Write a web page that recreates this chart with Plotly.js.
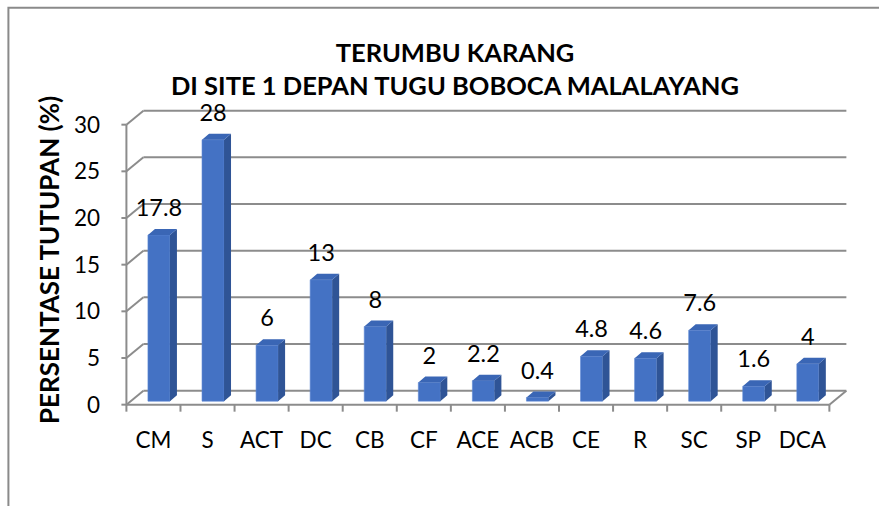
<!DOCTYPE html>
<html>
<head>
<meta charset="utf-8">
<script src="https://cdn.plot.ly/plotly-3.0.1.min.js"></script>
<style>
html,body{margin:0;padding:0;background:#fff;}
#chart{width:879px;height:506px;}
</style>
</head>
<body>
<div id="chart"></div>
<script>
// ---- data ----
const categories = ['CM','S','ACT','DC','CB','CF','ACE','ACB','CE','R','SC','SP','DCA'];
const values = [17.8, 28, 6, 13, 8, 2, 2.2, 0.4, 4.8, 4.6, 7.6, 1.6, 4];
const yTickVals = [0, 5, 10, 15, 20, 25, 30];
const titleLines = ['TERUMBU KARANG', 'DI SITE 1 DEPAN TUGU BOBOCA MALALAYANG'];
const yTitle = 'PERSENTASE TUTUPAN (%)';

// ---- geometry (pixel mapping) ----
const W = 879, H = 506;
const PXX = 703 / 13;     // px per category
const PXY = 280 / 30;     // px per y unit
const X0PX = 126, Y0PX = 405; // front-left-bottom corner in px
const xr = [-0.6, 12.9];
const yr = [-1, 32];
const plotL = X0PX - (-0.5 - xr[0]) * PXX;
const plotW = (xr[1] - xr[0]) * PXX;
const plotB = Y0PX + (0 - yr[0]) * PXY;
const plotH = (yr[1] - yr[0]) * PXY;
const n = categories.length;
const xMin = -0.5, xMax = n - 0.5;
const yMaxFront = yTickVals[yTickVals.length - 1];
const DX = 17 / PXX, DY = 14 / PXY;          // wall depth
const BFX = 5.5 / PXX, BFY = 3.5 / PXY;      // bar front offset
const BDX = 7 / PXX, BDY = 6 / PXY;          // bar depth
const BW = 22 / PXX;                          // bar width

const gridColor = '#8c8c8c';
const shapes = [];
function seg(x0, y0, x1, y1, w) {
  shapes.push({type:'line', xref:'x', yref:'y', x0:x0, y0:y0, x1:x1, y1:y1,
    line:{color:gridColor, width:w||2}, layer:'below'});
}
// left wall diagonals + back wall gridlines + y ticks
yTickVals.forEach(t => {
  seg(xMin, t, xMin + DX, t + DY);
  seg(xMin + DX, t + DY, xMax + DX, t + DY);
  seg(xMin - 5 / PXX, t, xMin, t);
});
// front y axis line
seg(xMin, 0, xMin, yMaxFront);
// floor front edge and right diagonal
seg(xMin, 0, xMax, 0);
seg(xMax, 0, xMax + DX, DY);
// category boundary ticks
for (let i = 0; i <= n; i++) seg(xMin + i, 0, xMin + i, -7 / PXY);

// border frame (paper coords from px)
const px2paperX = p => (p - plotL) / plotW;
const px2paperY = p => (plotB - p) / plotH;
shapes.push({type:'rect', xref:'paper', yref:'paper',
  x0: px2paperX(8), x1: px2paperX(1200), y0: px2paperY(8), y1: px2paperY(1200),
  line:{color:'#8a8a8a', width:2}, fillcolor:'rgba(0,0,0,0)', layer:'below'});

const idx = categories.map((c, i) => i);

// front faces
const bars = {
  type:'bar', x: idx.map(i => i + BFX), y: values, base: BFY, width: BW,
  marker:{color:'#4472C4', line:{color:'#5b86d3', width:0.6}},
  hoverinfo:'skip', showlegend:false
};
// side faces
const sx = [], sy = [];
values.forEach((v, i) => {
  const r = i + BFX + BW / 2;
  sx.push(r, r + BDX, r + BDX, r, r, null);
  sy.push(BFY, BFY + BDY, BFY + BDY + v, BFY + v, BFY, null);
});
const side = {type:'scatter', mode:'lines', x:sx, y:sy, fill:'toself',
  fillcolor:'#2F5496', line:{width:0, color:'#2F5496'}, hoverinfo:'skip', showlegend:false};
// top faces
const tx = [], ty = [];
values.forEach((v, i) => {
  const l = i + BFX - BW / 2, r = i + BFX + BW / 2, top = BFY + v;
  tx.push(l, r, r + BDX, l + BDX, l, null);
  ty.push(top, top, top + BDY, top + BDY, top, null);
});
const topF = {type:'scatter', mode:'lines', x:tx, y:ty, fill:'toself',
  fillcolor:'#3A66B5', line:{width:0, color:'#3A66B5'}, hoverinfo:'skip', showlegend:false};
// data labels
const labels = {type:'scatter', mode:'text',
  x: idx.map(i => i + BFX), y: values.map(v => BFY + v + BDY + 7 / PXY),
  text: values.map(v => String(v)), textposition:'top center',
  textfont:{family:'Lato, sans-serif', size:23.5, color:'#000'},
  cliponaxis:false, hoverinfo:'skip', showlegend:false};

const layout = {
  width: W, height: H,
  margin:{l: plotL, r: W - plotL - plotW, t: plotB - plotH, b: H - plotB, pad:0},
  paper_bgcolor:'#fff', plot_bgcolor:'rgba(0,0,0,0)',
  font:{family:'Lato, sans-serif', color:'#000'},
  showlegend:false,
  title:{text: titleLines.join('<br>'), font:{family:'Lato, sans-serif', size:25.5, color:'#000', weight:'bold'},
    xref:'container', yref:'container', x: 455 / W, xanchor:'center', y: 1 - 62 / H, yanchor:'top'},
  xaxis:{range: xr, showgrid:false, zeroline:false, showline:false, ticks:'',
    tickmode:'array', tickvals: idx, ticktext: categories,
    tickfont:{family:'Lato, sans-serif', size:22.5, color:'#000'}, ticklabelstandoff: 10, fixedrange:true},
  yaxis:{range: yr, showgrid:false, zeroline:false, showline:false, ticks:'',
    tickmode:'array', tickvals: yTickVals, ticktext: yTickVals.map(String),
    tickfont:{family:'Lato, sans-serif', size:22.5, color:'#000'}, ticklabelstandoff: 20,
    title:{text: yTitle, font:{family:'Lato, sans-serif', size:26, color:'#000', weight:'bold'}, standoff: 6},
    automargin:false, fixedrange:true},
  shapes: shapes
};

Plotly.newPlot('chart', [bars, side, topF, labels], layout, {displayModeBar:false, staticPlot:true});
</script>
</body>
</html>
